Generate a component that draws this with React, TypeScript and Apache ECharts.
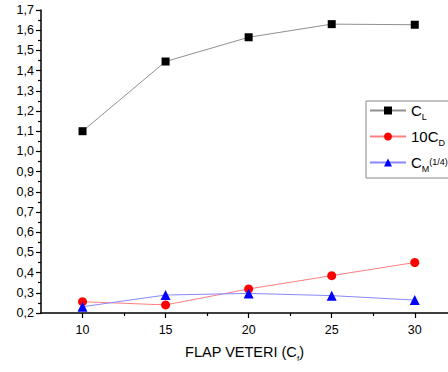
import React, { useEffect, useRef } from "react";
import * as echarts from "echarts";

const flapAngles = [10, 15, 20, 25, 30];
const cl = [1.1, 1.445, 1.565, 1.63, 1.627];
const cd10 = [0.256, 0.24, 0.319, 0.385, 0.45];
const cm = [0.231, 0.289, 0.297, 0.286, 0.264];
const xMajorTicks = [10, 15, 20, 25, 30];
const xMinorTicks = [12.5, 17.5, 22.5, 27.5];

const FONT = "Arial, 'Liberation Sans', sans-serif";

export default function App() {
  const ref = useRef<HTMLDivElement>(null);
  useEffect(() => {
    if (!ref.current) return;
    const chart = echarts.init(ref.current, null, { renderer: "svg" });
    const pairs = (ys: number[]) => flapAngles.map((x, i) => [x, ys[i]]);
    const legendNames: Record<string, string> = {
      CL: "{m|C}{s|L}",
      CD: "{m|10C}{s|D}",
      CM: "{m|C}{s|M}{p|(1/4)}",
    };
    chart.setOption({
      animation: false,
      textStyle: { fontFamily: FONT },
      grid: { left: 41, top: 10, width: 407, height: 303, outerBoundsMode: "none", containLabel: false },
      legend: {
        orient: "vertical",
        left: 366,
        top: 101,
        width: 79,
        itemWidth: 36,
        itemHeight: 10,
        itemGap: 8,
        padding: [2, 6, 5, 3],
        borderColor: "#888",
        borderWidth: 1,
        borderRadius: 0,
        data: ["CL", "CD", "CM"],
        formatter: (n: string) => legendNames[n],
        textStyle: {
          fontFamily: FONT,
          color: "#000",
          rich: {
            m: { fontSize: 15, fontFamily: FONT, color: "#000", height: 16 },
            s: { fontSize: 9, fontFamily: FONT, color: "#000", padding: [12, 0, 0, 0] },
            p: { fontSize: 9, fontFamily: FONT, color: "#000", padding: [0, 0, 2, 0] },
          },
        },
      },
      xAxis: [
        {
          type: "value",
          min: 7.5,
          max: 32,
          position: "bottom",
          axisLine: { show: true, onZero: false, lineStyle: { color: "#000", width: 1.5 } },
          axisTick: { show: true, customValues: xMajorTicks, length: 5, lineStyle: { color: "#000", width: 1.2 } },
          axisLabel: { show: true, customValues: xMajorTicks, fontSize: 12.5, color: "#000", margin: 10, fontFamily: FONT },
          splitLine: { show: false },
          name: "{a|FLAP VETERI (C}{s|f}{a|)}",
          nameLocation: "middle",
          nameGap: 29,
          nameTextStyle: {
            rich: {
              a: { fontSize: 14.5, fontFamily: FONT, color: "#000" },
              s: { fontSize: 8, fontFamily: FONT, color: "#000", padding: [12, 0, 0, 0] },
            },
          },
        },
        {
          type: "value",
          min: 7.5,
          max: 32,
          position: "bottom",
          axisLine: { show: false, onZero: false },
          axisTick: { show: true, customValues: xMinorTicks, length: 3, lineStyle: { color: "#000", width: 1.2 } },
          axisLabel: { show: false },
          splitLine: { show: false },
        },
      ],
      yAxis: {
        type: "value",
        min: 0.2,
        max: 1.7,
        interval: 0.1,
        axisLine: { show: true, onZero: false, lineStyle: { color: "#000", width: 1.5 } },
        axisTick: { show: true, length: 5, lineStyle: { color: "#000", width: 1.2 } },
        minorTick: { show: true, splitNumber: 2, length: 3, lineStyle: { color: "#000", width: 1.2 } },
        axisLabel: {
          fontSize: 12.5,
          color: "#000",
          margin: 7,
          fontFamily: FONT,
          formatter: (v: number) => v.toFixed(1).replace(".", ","),
        },
        splitLine: { show: false },
      },
      series: [
        {
          name: "CL",
          type: "line",
          data: pairs(cl),
          symbol: "rect",
          symbolSize: 8,
          itemStyle: { color: "#000" },
          lineStyle: { color: "#909090", width: 1 },
        },
        {
          name: "CD",
          type: "line",
          data: pairs(cd10),
          symbol: "circle",
          symbolSize: 9,
          itemStyle: { color: "#ff0000" },
          lineStyle: { color: "#ff8080", width: 1 },
        },
        {
          name: "CM",
          type: "line",
          data: pairs(cm),
          symbol: "triangle",
          symbolSize: 10,
          itemStyle: { color: "#0000ff" },
          lineStyle: { color: "#8888ff", width: 1 },
        },
      ],
    });
    return () => chart.dispose();
  }, []);
  return (
    <div
      ref={ref}
      style={{ position: "fixed", left: 0, top: 0, width: 448, height: 372, background: "#fff" }}
    />
  );
}
